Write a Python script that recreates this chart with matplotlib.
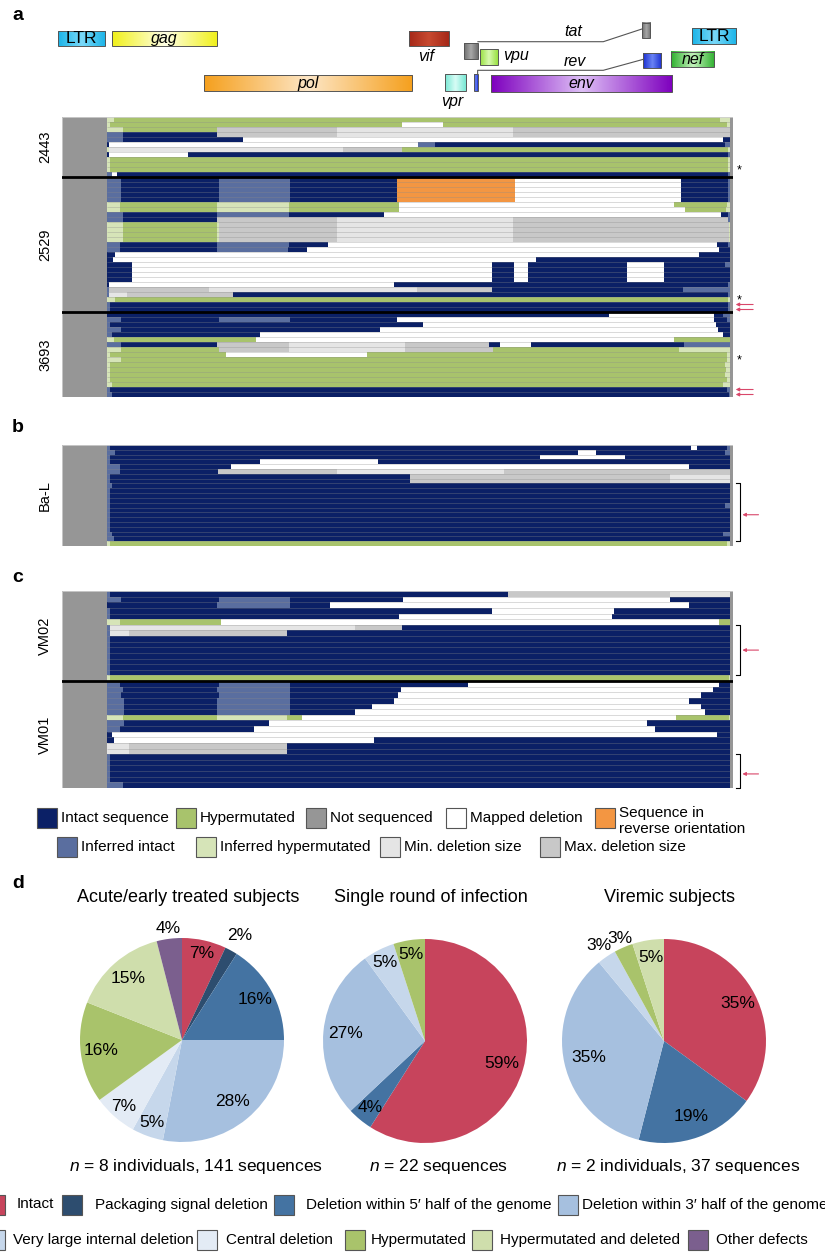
import numpy as np
import matplotlib
matplotlib.use('Agg')
import matplotlib.pyplot as plt
from matplotlib.patches import Rectangle
from matplotlib.colors import LinearSegmentedColormap
import matplotlib.transforms as mtransforms

plt.rcParams['font.family'] = ['Liberation Sans', 'DejaVu Sans']
plt.rcParams['mathtext.fontset'] = 'custom'
plt.rcParams['mathtext.it'] = 'Liberation Sans:italic'
plt.rcParams['mathtext.rm'] = 'Liberation Sans'

# ---------------- data ----------------
# genome positions (HXB2-like nt), rows: "<code><end>" tokens, each segment starts where the previous ended
SEQ_START, SEQ_END, GENOME_END = 650, 9680, 9720

rows_2443 = [
    "h753 H9531 h9680",
    "h695 H4929 D5524 H9628 h9680",
    "h888 H2240 M3978 m6538 M9680",
    "I888 N2240 M3978 m6538 M9680",
    "I888 N2617 D9579 N9680",
    "N686 D5162 I5403 N9603 I9680",
    "h686 m4065 M4920 H9652 h9680",
    "N686 D1830 N9652 I9680",
    "h695 H9652 h9680",
    "h695 H9652 h9680",
    "h695 H9652 h9680",
    "I719 D801 N9652 I9680",
]
rows_2529 = [
    "I850 N2274 I3302 N4847 R6562 D8966 N9652 I9680",
    "I850 N2274 I3302 N4847 R6562 D8966 N9652 I9680",
    "I850 N2274 I3302 N4847 R6562 D8966 N9652 I9680",
    "I850 N2274 I3302 N4847 R6562 D8966 N9652 I9680",
    "I850 N2274 I3302 N4847 R6562 D8966 N9652 I9680",
    "h840 H2240 h3293 H4886 D8865 H9627 h9680",
    "h840 H2240 h3293 H4886 D9024 H9618 h9680",
    "I879 N2240 I3283 N4664 D9541 N9652 I9680",
    "I879 N2240 M3978 m6528 M9652 I9680",
    "h888 H2240 h2274 M3978 m6528 M9668 h9680",
    "h888 H2240 h2274 M3978 m6528 M9668 h9680",
    "h888 H2240 h2274 M3978 m6528 M9668 h9680",
    "h888 H2240 h2274 M3978 m6528 M9668 h9680",
    "I840 N2240 I3283 N3848 D9483 N9652 I9680",
    "I840 N2240 I3273 N3544 D9522 N9680",
    "N768 D9227 N9680",
    "N740 D6866 N9680",
    "N1019 D6224 N6552 D6755 N8179 D8725 N9600 I9680",
    "N1019 D6224 N6552 D6755 N8179 D8725 N9680",
    "N1019 D6224 N6552 D6755 N8179 D8725 N9680",
    "N1019 D6224 N6552 D6755 N8179 D8725 N9680",
    "N686 D4813 N9652 I9680",
    "I686 M2134 m5147 M6224 N9000 I9680",
    "I686 m937 M2482 N9652 I9680",
    "h768 H9652 h9680",
    "I700 N9652 I9680",
    "I700 N9652 I9680",
]
rows_3693 = [
    "N7922 D9446 N9580 I9680",
    "I855 N2273 I3302 N4857 D9446 N9640 I9680",
    "I700 N5223 D9469 N9680",
    "I855 N4613 D9507 N9680",
    "I730 N2875 D9568 N9680",
    "h760 H2814 D8859 H9680",
    "I855 N2250 M3287 m4964 M6191 N6344 D6801 N9012 I9680",
    "h850 H2273 M3287 m4964 M6245 H8935 h9680",
    "h700 H2380 D4415 H9640 h9680",
    "h850 H9640 h9680",
    "h700 H9600 h9680",
    "h700 H9620 h9680",
    "h700 H9600 h9680",
    "h700 H9640 h9680",
    "h720 H9580 h9680",
    "I700 N9640 I9680",
    "I720 N9660 I9680",
]
rows_bal = [
    "I690 N9111 D9203 N9640 I9680",
    "I764 N7472 D7739 N9600 I9680",
    "I690 N6931 D8158 N9680",
    "I690 N2875 D4583 N9680",
    "I840 N2441 D9088 N9680",
    "I840 N2266 M3988 m6405 M9680",
    "I690 N5048 M8806 m9680",
    "I690 N5048 M8806 m9680",
    "I730 N9680",
    "I690 N9680",
    "I690 N9680",
    "I690 N9680",
    "I690 N9600 I9680",
    "I690 N9680",
    "I690 N9680",
    "I690 N9680",
    "I690 N9680",
    "I690 N9680",
    "I720 N9580 I9680",
    "I760 N9680",
    "h700 H9640 h9680",
]
rows_vm02 = [
    "I690 N6458 M8806 m9680",
    "I855 N2273 I3302 N4934 D8806 N9680",
    "N2243 I3302 N3889 D9088 N9680",
    "I690 N6230 D7998 N9680",
    "I690 N4880 D7960 N9680",
    "h840 H2304 D9523 H9680",
    "I690 m4248 M4918 N9680",
    "I690 m970 M3264 N9680",
    "I690 N9680",
    "I690 N9680",
    "I690 N9680",
    "I690 N9680",
    "I690 N9680",
    "I690 N9680",
    "I690 N9680",
    "h700 H9660 h9680",
]
rows_vm01 = [
    "I840 N2273 I3302 N5887 D9523 N9680",
    "I878 N2250 I3302 N4911 D9431 N9680",
    "I855 N2273 I3302 N4873 D9256 N9680",
    "I893 N2243 I3302 N4804 D9088 N9680",
    "I893 N2243 I3302 N4484 D9256 N9680",
    "I893 N2243 I3302 N4248 D9317 N9680",
    "h878 H2243 h3264 H3470 D8898 H9660 h9680",
    "I893 N3005 D8478 N9680",
    "I840 N2784 D8593 N9680",
    "N726 D9484 N9680",
    "N749 D4514 N9680",
    "m970 M3264 N9680",
    "m970 M3264 N9680",
    "I690 N9680",
    "I690 N9680",
    "I690 N9680",
    "I690 N9680",
    "I690 N9680",
    "I880 N9680",
]

# marks: (group, row index)
stars = [('2443', 10), ('2529', 24), ('3693', 9)]
arrows = [('2529', 25), ('2529', 26), ('3693', 15), ('3693', 16), ('Ba-L', 14), ('VM02', 10), ('VM01', 16)]
brackets = [('Ba-L', 8, 20), ('VM02', 6, 15), ('VM01', 13, 19)]

seg_codes = ['N', 'H', 'S', 'D', 'R', 'I', 'h', 'm', 'M']
seg_labels = ['Intact sequence', 'Hypermutated', 'Not sequenced', 'Mapped deletion',
              'Sequence in\nreverse orientation', 'Inferred intact', 'Inferred hypermutated',
              'Min. deletion size', 'Max. deletion size']
seg_colors = ['#0b2066', '#a8c36c', '#969696', '#ffffff', '#f39642',
              '#5a6e9f', '#d6e4b8', '#e5e5e5', '#c8c8c8']
COL = dict(zip(seg_codes, seg_colors))

gene_names = ['LTR', 'gag', 'vif', 'tat', 'vpu', 'tat', 'LTR', 'rev', 'nef', 'pol', 'vpr', 'rev', 'env']
gene_start = [-60, 720, 5026, 5827, 6054, 8401, 9125, 8411, 8821, 2050, 5547, 5972, 6214]
gene_end = [630, 2250, 5605, 6025, 6311, 8517, 9763, 8672, 9444, 5074, 5847, 6021, 8840]

pie_cats = ['Intact', 'Packaging signal deletion', 'Deletion within 5\u2032 half of the genome',
            'Deletion within 3\u2032 half of the genome', 'Very large internal deletion',
            'Central deletion', 'Hypermutated', 'Hypermutated and deleted', 'Other defects']
pie_colors = ['#c7445c', '#2d4d6f', '#4473a2', '#a6c0df', '#c6d7eb', '#e3ebf5',
              '#a9c36b', '#cfdeac', '#7b5f8e']
acute = [7, 2, 16, 28, 5, 7, 16, 15, 4]
single = [59, 0, 4, 27, 5, 0, 5, 0, 0]
viremic = [35, 0, 19, 35, 3, 0, 3, 5, 0]
pie_titles = ['Acute/early treated subjects', 'Single round of infection', 'Viremic subjects']
pie_n = [r'$n$ = 8 individuals, 141 sequences', r'$n$ = 22 sequences', r'$n$ = 2 individuals, 37 sequences']

# ---------------- figure ----------------
W, H = 825, 1254
fig = plt.figure(figsize=(W / 100, H / 100), dpi=100)


def rect(x0, y0, x1, y1):
    return [x0 / W, 1 - y1 / H, (x1 - x0) / W, (y1 - y0) / H]


ov = fig.add_axes([0, 0, 1, 1])
ov.set_xlim(0, W)
ov.set_ylim(H, 0)
ov.axis('off')

red = '#d9476a'
offsets = {}
axes_of = {}


def draw_panel(y0, y1, groups):
    ax = fig.add_axes(rect(62, y0, 733, y1))
    n = sum(len(r) for _, r in groups)
    ax.set_xlim(0, GENOME_END)
    ax.set_ylim(n, 0)
    ax.axis('off')
    ax.add_patch(Rectangle((0, 0), SEQ_START, n, color=COL['S'], lw=0))
    ax.add_patch(Rectangle((SEQ_END, 0), GENOME_END - SEQ_END, n, color=COL['S'], lw=0))
    lefts, widths, ys, cols = [], [], [], []
    y = 0
    blend = mtransforms.blended_transform_factory(ax.transAxes, ax.transData)
    for name, rows in groups:
        offsets[name] = y
        axes_of[name] = ax
        for row in rows:
            x = SEQ_START
            for tok in row.split():
                end = int(tok[1:])
                lefts.append(x)
                widths.append(end - x)
                ys.append(y + 0.5)
                cols.append(COL[tok[0]])
                x = end
            y += 1
        ax.text(-0.025, offsets[name] + len(rows) / 2, name, transform=blend, rotation=90,
                ha='center', va='center', fontsize=10.5)
    ax.barh(ys, widths, left=lefts, height=1.0, color=cols, lw=0)
    ax.hlines(np.arange(1, n), SEQ_START, SEQ_END, color='#8a8a8a', alpha=0.45, lw=0.5)
    for name, rows in groups[1:]:
        ax.axhline(offsets[name], color='black', lw=2)
    ax.add_patch(Rectangle((0, 0), 1, 1, transform=ax.transAxes, fill=False,
                           ec='#cfcfcf', lw=0.6))
    return ax


draw_panel(117, 397, [('2443', rows_2443), ('2529', rows_2529), ('3693', rows_3693)])
draw_panel(445, 546, [('Ba-L', rows_bal)])
draw_panel(591, 788, [('VM02', rows_vm02), ('VM01', rows_vm01)])

for g, r in stars:
    ax = axes_of[g]
    bl = mtransforms.blended_transform_factory(ax.transAxes, ax.transData)
    ax.text(1.006, offsets[g] + r + 0.7, '*', transform=bl, fontsize=9, ha='left', va='center')
for g, r in arrows:
    ax = axes_of[g]
    bl = mtransforms.blended_transform_factory(ax.transAxes, ax.transData)
    x0, x1 = (1.004, 1.03) if ax is axes_of['2443'] else (1.014, 1.038)
    ax.annotate('', xy=(x0, offsets[g] + r + 0.5), xytext=(x1, offsets[g] + r + 0.5), xycoords=bl,
                arrowprops=dict(arrowstyle='-|>', color=red, lw=0.8, mutation_scale=5,
                                shrinkA=0, shrinkB=0), annotation_clip=False)
for g, r0, r1 in brackets:
    ax = axes_of[g]
    bl = mtransforms.blended_transform_factory(ax.transAxes, ax.transData)
    ax.plot([1.004, 1.01, 1.01, 1.004], [offsets[g] + r0, offsets[g] + r0, offsets[g] + r1, offsets[g] + r1],
            transform=bl, clip_on=False, color='black', lw=0.8)

# ---------------- genome map ----------------
gm = fig.add_axes(rect(62, 0, 733, 110))
gm.axis('off')
gene_y = [(30.7, 45.7), (30.7, 45.7), (30.7, 45.7), (43.3, 59.3), (49.3, 65), (22.7, 38.3), (28.3, 44),
          (52.7, 67.7), (51.7, 67.3), (75, 91), (74, 90.7), (74, 90.7), (75, 91.7)]
gene_edge = ['#1ab4e8', '#f0f01a', '#a52818', '#6e6e6e', '#98e040', '#6e6e6e', '#1ab4e8',
             '#1a2ed0', '#2fb02f', '#f5a01e', '#78e8d4', '#1a2ed0', '#7e00be']
gene_mid = ['#7ad8f8', '#ffffe6', '#c84a30', '#a8a8a8', '#d8fab0', '#a8a8a8', '#7ad8f8',
            '#6a84f4', '#c4f2bc', '#fde6c6', '#d8fcf6', '#6a84f4', '#dec0f6']
gene_lab = ['in', 'in', 'below', '', 'right', '', 'in', '', 'in', 'in', 'below', '', 'in']
grad = np.linspace(0, 1, 128)[None, :]
for nm, s, e, (yt, yb), ce, cm, lab in zip(gene_names, gene_start, gene_end, gene_y,
                                           gene_edge, gene_mid, gene_lab):
    cmap = LinearSegmentedColormap.from_list('g', [ce, cm, ce])
    im = gm.imshow(grad, cmap=cmap, extent=(s, e, yb, yt), aspect='auto', zorder=2)
    im.set_clip_on(False)
    gm.add_patch(Rectangle((s, yt), e - s, yb - yt, fill=False, ec='#555555', lw=0.7,
                           zorder=3, clip_on=False))
    style = 'normal' if nm == 'LTR' else 'italic'
    fs = 12.5 if nm == 'LTR' else 11.5
    if lab == 'in':
        gm.text((s + e) / 2, (yt + yb) / 2 + 0.5, nm, ha='center', va='center', fontsize=fs,
                style=style, zorder=4)
    elif lab == 'below':
        gm.text((s + e) / 2 - 40, yb + 3, nm, ha='center', va='top', fontsize=fs, style=style)
    elif lab == 'right':
        gm.text(e + 80, (yt + yb) / 2 - 1.5, nm, ha='left', va='center', fontsize=fs, style=style)
kink = 7841
gm.plot([gene_end[3], kink, gene_start[5]], [41.7, 41.7, 29], color='#555555', lw=0.8)
gm.plot([gene_end[11], gene_end[11], kink, gene_start[7]], [74, 70.3, 70.3, 59.5], color='#555555', lw=0.8)
gm.text(7403, 31, 'tat', ha='center', va='center', fontsize=11.5, style='italic')
gm.text(7430, 61, 'rev', ha='center', va='center', fontsize=11.5, style='italic')
gm.set_xlim(0, GENOME_END)
gm.set_ylim(110, 0)

# ---------------- panel letters ----------------
for lt, yy in zip('abcd', [15, 428, 578, 883]):
    ov.text(18, yy, lt, fontsize=14, fontweight='bold', ha='center', va='center')

# ---------------- legend for a-c ----------------
leg_x = [37, 176, 306, 446, 595, 57, 196, 380, 540]
leg_y = [818, 818, 818, 818, 818, 847, 847, 847, 847]
for code, lab, x, y in zip(seg_codes, seg_labels, leg_x, leg_y):
    ov.add_patch(Rectangle((x, y - 10), 20, 20, fc=COL[code], ec='#555555', lw=0.8))
    ov.text(x + 24, y + (3 if '\n' in lab else 0), lab, fontsize=11, ha='left', va='center',
            linespacing=1.15)

# ---------------- pies ----------------
pie_cx = [182, 425, 664]
pie_cy = [1040, 1041, 1041]
r_px = 102
lbl_r = [[0.87, 1.17, 0.82, 0.78, 0.86, 0.87, 0.80, 0.80, 1.10],
         [0.78, 0.85, 0.78, 0.86, 0.86],
         [0.81, 0.79, 0.76, 1.13, 1.10, 0.83]]
for vals, cx, cy, lr, title, ntxt in zip([acute, single, viremic], pie_cx, pie_cy, lbl_r,
                                         pie_titles, pie_n):
    keep = [i for i, v in enumerate(vals) if v > 0]
    v = [vals[i] for i in keep]
    c = [pie_colors[i] for i in keep]
    ax = fig.add_axes(rect(cx - r_px, cy - r_px, cx + r_px, cy + r_px))
    wedges, _ = ax.pie(v, colors=c, startangle=90, counterclock=False, radius=1,
                       wedgeprops=dict(lw=0))
    for w, val, d in zip(wedges, v, lr):
        a = np.deg2rad((w.theta1 + w.theta2) / 2)
        ax.text(d * np.cos(a), d * np.sin(a), f'{val}%', ha='center', va='center', fontsize=12.5)
    ax.set_xlim(-1, 1)
    ax.set_ylim(-1, 1)
    ax.axis('off')
    ov.text(cx + 6, 898, title, fontsize=13, ha='center', va='center')
    ov.text(cx + 14, 1166, ntxt, fontsize=12.5, ha='center', va='center')

# ---------------- pie legend ----------------
pl_x = [-15, 62, 274, 558, -15, 197, 345, 472, 688]
pl_y = [1204.5, 1204.5, 1204.5, 1204.5, 1240, 1240, 1240, 1240, 1240]
pl_tx = [17, 95, 306, 582, 13, 226, 371, 500, 716]
for cat, col, x, y, tx in zip(pie_cats, pie_colors, pl_x, pl_y, pl_tx):
    ov.add_patch(Rectangle((x, y - 10), 20, 20, fc=col, ec='#555555', lw=0.8))
    ov.text(tx, y, cat, fontsize=11, ha='left', va='center')

fig.savefig('out.png', dpi=100)
